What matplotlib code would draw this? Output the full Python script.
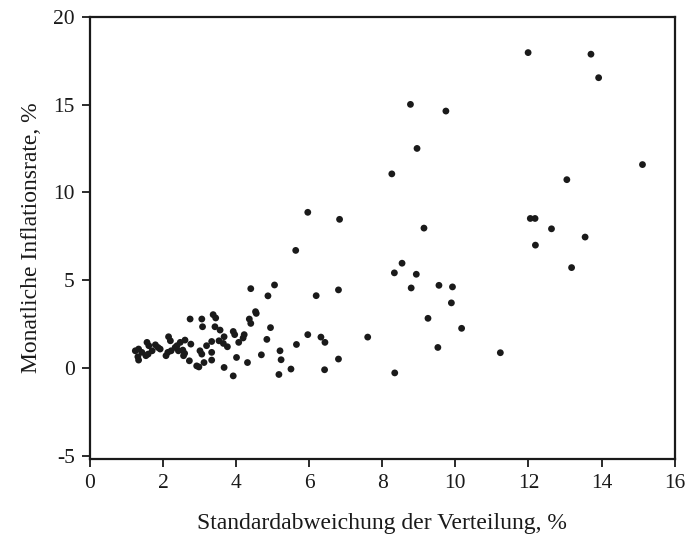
import numpy as np
import matplotlib.pyplot as plt

# Standard deviation of the distribution (%) and monthly inflation rate (%)
std_dev = [
    1.24, 1.33, 1.31, 1.33, 1.42, 1.56, 1.61, 1.53, 1.59, 1.70, 1.79, 1.86, 1.92,
    2.15, 2.20, 2.13, 2.08, 2.22, 2.33, 2.38, 2.47, 2.60, 2.42, 2.54, 2.59, 2.56,
    2.76, 2.72, 2.92, 2.98, 3.12, 3.01, 3.06, 3.19, 3.33, 3.33, 3.33, 3.53, 3.65,
    3.76, 3.67, 3.67, 3.92, 4.01, 4.07, 2.74, 3.06, 3.08, 3.37, 3.44, 3.42, 3.56,
    3.92, 3.96, 4.22, 4.19, 4.31, 4.36, 4.40, 4.53, 4.55, 4.40, 4.87, 5.05, 4.94,
    4.84, 4.69, 5.20, 5.23, 5.50, 5.17, 5.65, 5.96, 6.32, 6.43, 7.60, 6.80, 6.42,
    6.19, 6.80, 5.96, 5.63, 6.83,
    8.26, 8.77, 9.74, 8.95, 9.14, 8.54, 8.33, 8.93, 8.79, 9.55, 9.92, 9.89, 9.25,
    10.17, 9.52, 11.23, 8.34,
    11.99, 13.71, 13.92, 15.12, 13.05, 12.05, 12.18, 12.63, 13.55, 12.19, 13.18,
]
inflation = [
    0.97, 1.07, 0.63, 0.44, 0.88, 1.45, 1.26, 0.69, 0.78, 0.97, 1.31, 1.16, 1.07,
    1.77, 1.54, 0.88, 0.69, 0.97, 1.16, 1.26, 1.45, 1.58, 0.97, 1.01, 0.82, 0.69,
    1.35, 0.40, 0.11, 0.05, 0.30, 0.97, 0.78, 1.26, 1.50, 0.88, 0.44, 1.54, 1.39,
    1.20, 1.77, 0.02, -0.46, 0.59, 1.45, 2.78, 2.78, 2.34, 3.03, 2.84, 2.34, 2.15,
    2.07, 1.89, 1.89, 1.70, 0.30, 2.78, 2.53, 3.20, 3.10, 4.51, 4.10, 4.72, 2.29,
    1.62, 0.74, 0.97, 0.46, -0.07, -0.38, 1.33, 1.89, 1.75, 1.45, 1.75, 0.50, -0.11,
    4.11, 4.44, 8.86, 6.69, 8.46,
    11.05, 15.01, 14.63, 12.50, 7.96, 5.96, 5.41, 5.33, 4.55, 4.70, 4.61, 3.70, 2.82,
    2.25, 1.16, 0.86, -0.29,
    17.96, 17.87, 16.53, 11.58, 10.72, 8.51, 8.51, 7.92, 7.45, 6.99, 5.71,
]

x_ticks = [0, 2, 4, 6, 8, 10, 12, 14, 16]
y_ticks = [-5, 0, 5, 10, 15, 20]

plt.rcParams['font.family'] = ['Liberation Serif', 'DejaVu Serif']
plt.rcParams['axes.unicode_minus'] = False  # plain hyphen in "-5"

fig = plt.figure(figsize=(6.87, 5.42), dpi=100)
ax = fig.add_axes([0.131, 0.153, 0.851, 0.816])

ax.scatter(std_dev, inflation, s=24, color='#1a1a1a', edgecolors='none', zorder=3)

ax.set_xlim(0, 16)
ax.set_ylim(-5.2, 20)
ax.set_xticks(x_ticks)
ax.set_yticks(y_ticks)
ax.tick_params(direction='out', length=6, width=1.3, labelsize=15.5, colors='#1a1a1a', pad=5)

for side in ['left', 'right', 'top', 'bottom']:
    ax.spines[side].set_linewidth(1.6)
    ax.spines[side].set_color('#1a1a1a')

ax.set_xlabel('Standardabweichung der Verteilung, %', fontsize=17, color='#1a1a1a', labelpad=14)
ax.set_ylabel('Monatliche Inflationsrate, %', fontsize=17, color='#1a1a1a', labelpad=8)

fig.savefig('out.png', dpi=100)
